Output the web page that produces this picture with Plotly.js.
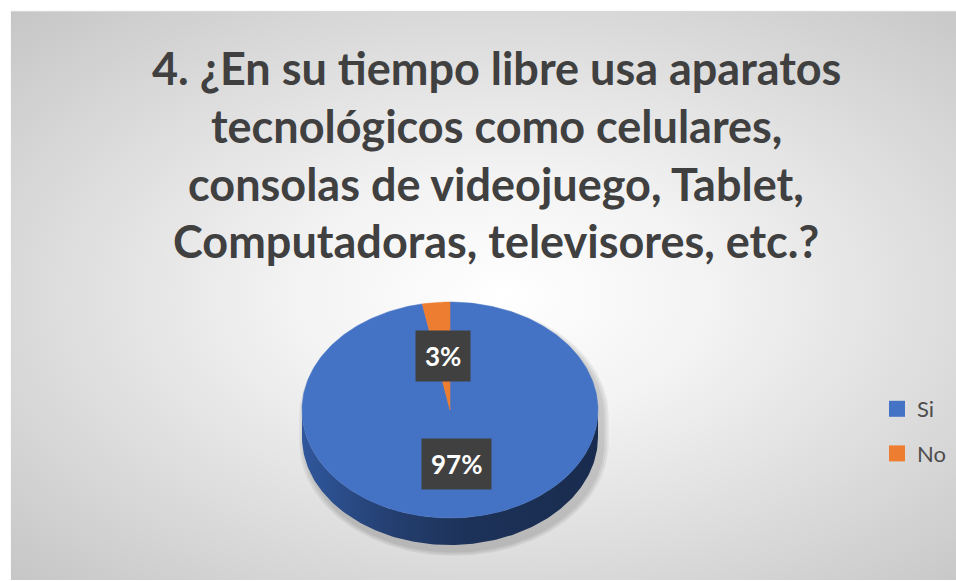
<!DOCTYPE html>
<html>
<head>
<meta charset="utf-8">
<script src="https://cdn.plot.ly/plotly-3.0.1.min.js"></script>
<style>
  html, body { margin:0; padding:0; background:#ffffff; width:956px; height:581px; overflow:hidden; }
  #bg { position:absolute; left:11px; top:12px; width:945px; height:568px;
        background: radial-gradient(ellipse farthest-corner at 52% 50%, #ffffff 0%, #f3f3f3 30%, #c6c6c6 100%);
        box-shadow: 0 -1px 1px rgba(0,0,0,0.15); }
  #chart { position:absolute; left:0; top:0; width:956px; height:581px; }
</style>
</head>
<body>
<div id="bg"></div>
<div id="chart"></div>
<script>
// ---- data ----
const titleLines = [
  '4. ¿En su tiempo libre usa aparatos',
  'tecnológicos como celulares,',
  'consolas de videojuego, Tablet,',
  'Computadoras, televisores, etc.?'
];
const categories = ['Si', 'No'];
const values = [97, 3];
const sliceColors = ['#4472c4', '#ed7d31'];

// ---- geometry / style (pixels) ----
const W = 956, H = 581;
const CX = 450, CY = 410, RX = 148, RY = 108, DEPTH = 27;
const FONT = 'Lato, "Open Sans", sans-serif';
const d = DEPTH / RY;

const total = values.reduce((a, b) => a + b, 0);
const deg = Math.PI / 180;
const traces = [];

// angles of each slice (start at 12 o'clock, clockwise)
let cum = 0;
const slices = values.map((v, i) => {
  const frac = v / total;
  const a0 = 90 - cum * 360, a1 = 90 - (cum + frac) * 360;
  cum += frac;
  return { a0, a1, frac, i };
});

function sliceOf(theta) {
  for (const s of slices) {
    let t = theta;
    while (t > s.a0) t -= 360;
    while (t <= s.a0 - 360) t += 360;
    if (t >= s.a1) return s.i;
  }
  return 0;
}

// soft shadow
(function () {
  for (let k = 0; k < 3; k++) {
    const sx = [], sy = [];
    const g = 1.0 + 0.015 * (k + 1);
    for (let t = 0; t <= 360; t += 2) {
      const c = Math.cos(t * deg), s = Math.sin(t * deg);
      sx.push(c * g + 4 / RX);
      sy.push((s < 0 ? s * g - d : s * g) - 6 / RY);
    }
    traces.push({ x: sx, y: sy, mode: 'lines', fill: 'toself', fillcolor: 'rgba(0,0,0,0.06)',
      line: { width: 0, color: 'rgba(0,0,0,0)' }, hoverinfo: 'skip', showlegend: false });
  }
})();

// side (front half) - runs grouped by slice
(function () {
  let run = null;
  const runs = [];
  for (let t = 180; t <= 360; t += 1) {
    const si = sliceOf(t);
    if (!run || run.si !== si) { run = { si, ts: [] }; runs.push(run); if (runs.length > 1) runs[runs.length - 2].ts.push(t); }
    run.ts.push(t);
  }
  runs.forEach(r => {
    const xs = [], ys = [];
    r.ts.forEach(t => { xs.push(Math.cos(t * deg)); ys.push(Math.sin(t * deg)); });
    r.ts.slice().reverse().forEach(t => { xs.push(Math.cos(t * deg)); ys.push(Math.sin(t * deg) - d); });
    const scale = r.si === 0
      ? [[0, '#30579c'], [0.3, '#243f70'], [0.55, '#1d3259'], [1, '#192c4f']]
      : [[0, '#b5571a'], [1, '#7a3a10']];
    traces.push({ x: xs, y: ys, mode: 'lines', fill: 'toself',
      fillgradient: { type: 'horizontal', colorscale: scale },
      line: { width: 0, color: 'rgba(0,0,0,0)' }, hoverinfo: 'skip', showlegend: false });
  });
})();

// top faces
slices.forEach(s => {
  const xs = [0], ys = [0];
  const n = Math.max(2, Math.ceil(Math.abs(s.a0 - s.a1)));
  for (let k = 0; k <= n; k++) {
    const t = s.a0 + (s.a1 - s.a0) * k / n;
    xs.push(Math.cos(t * deg)); ys.push(Math.sin(t * deg));
  }
  xs.push(0); ys.push(0);
  traces.push({ x: xs, y: ys, mode: 'lines', fill: 'toself', fillcolor: sliceColors[s.i],
    line: { width: 0.5, color: sliceColors[s.i] }, name: categories[s.i],
    hoverinfo: 'skip', showlegend: false });
});

// legend entries
categories.forEach((c, i) => {
  traces.push({ x: [null], y: [null], mode: 'markers', name: c, legendgroup: c,
    marker: { symbol: 'square', size: 16, color: sliceColors[i] }, showlegend: true });
});

// annotations: title lines + data labels
const annotations = [];
const titleY = [68, 126, 184, 241];
titleLines.forEach((t, i) => {
  annotations.push({ text: '<b>' + t + '</b>', xref: 'paper', yref: 'paper',
    x: 496 / W, y: 1 - titleY[i] / H, xanchor: 'center', yanchor: 'middle', showarrow: false,
    font: { family: FONT, size: 45, color: '#404040' } });
});
slices.forEach(s => {
  const mid = (s.a0 + s.a1) / 2 * deg;
  const r = 0.5;
  annotations.push({ text: '<b>' + Math.round(s.frac * 100) + '%</b>', xref: 'x', yref: 'y',
    x: r * Math.cos(mid), y: r * Math.sin(mid), showarrow: false,
    xanchor: 'center', yanchor: 'middle',
    bgcolor: '#404040', borderpad: 9,
    font: { family: FONT, size: 26, color: '#ffffff' } });
});

const layout = {
  width: W, height: H,
  margin: { l: 0, r: 0, t: 0, b: 0 },
  paper_bgcolor: 'rgba(0,0,0,0)', plot_bgcolor: 'rgba(0,0,0,0)',
  xaxis: { range: [(0 - CX) / RX, (W - CX) / RX], visible: false, fixedrange: true },
  yaxis: { range: [-(H - CY) / RY, CY / RY], visible: false, fixedrange: true },
  showlegend: true,
  legend: { x: 877 / W, y: 1 - 388 / H, xanchor: 'left', yanchor: 'top',
    bgcolor: 'rgba(0,0,0,0)', tracegroupgap: 13,
    font: { family: FONT, size: 22, color: '#4d4d4d' } },
  annotations: annotations
};

Plotly.newPlot('chart', traces, layout, { displayModeBar: false, staticPlot: true });
</script>
</body>
</html>
